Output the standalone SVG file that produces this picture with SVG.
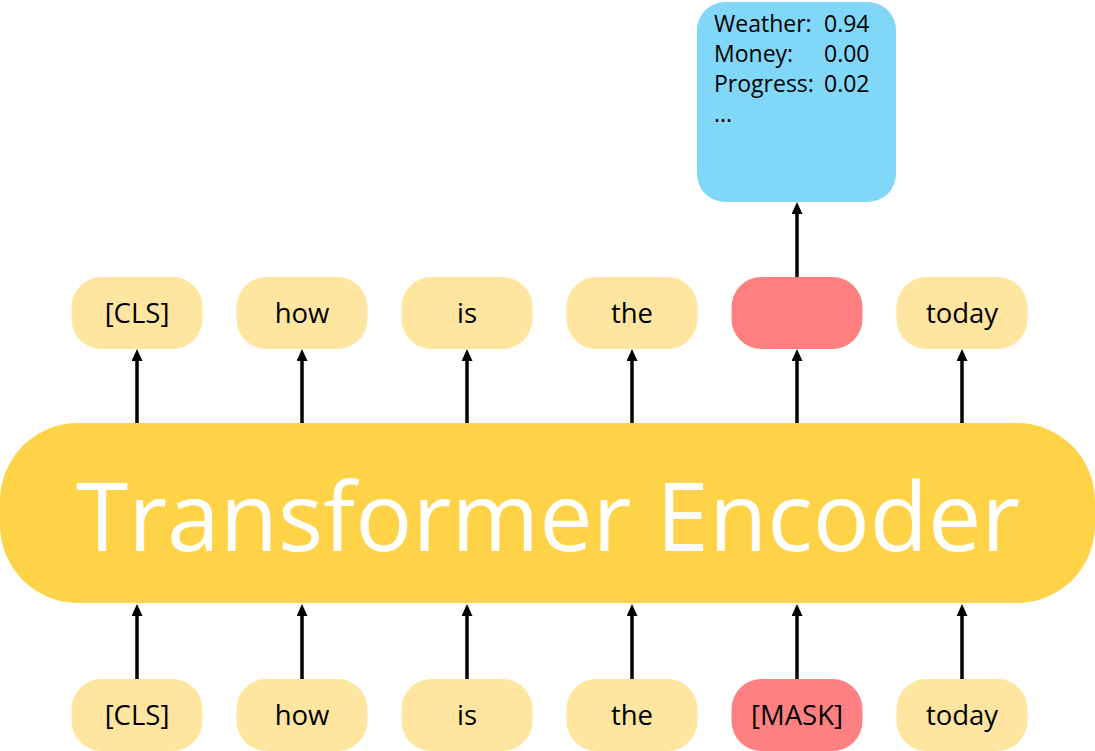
<svg xmlns="http://www.w3.org/2000/svg" width="1095" height="751" viewBox="0 0 1095 751">
<style>
.tok{fill:#FFE6A0}
.mask{fill:#FF8080}
.lbl{font-family:"Open Sans","Noto Sans",sans-serif;font-size:27.5px;fill:#000;text-anchor:middle}
.prob{font-family:"Open Sans","Noto Sans",sans-serif;font-size:23px;fill:#000}
.arr{stroke:#000;stroke-width:3.5;fill:none;marker-end:url(#ah)}
</style>
<defs>
<marker id="ah" markerUnits="userSpaceOnUse" markerWidth="12" markerHeight="11" refX="3" refY="5.5" orient="auto">
<path d="M0,0 L12,5.5 L0,11 z" fill="#000"/>
</marker>
</defs>
<rect width="1095" height="751" fill="#fff"/>
<g id="connectors">
<line class="arr" x1="137" y1="679" x2="137" y2="613"/>
<line class="arr" x1="302" y1="679" x2="302" y2="613"/>
<line class="arr" x1="467" y1="679" x2="467" y2="613"/>
<line class="arr" x1="632" y1="679" x2="632" y2="613"/>
<line class="arr" x1="797" y1="679" x2="797" y2="613"/>
<line class="arr" x1="962" y1="679" x2="962" y2="613"/>
<line class="arr" x1="137" y1="423" x2="137" y2="358"/>
<line class="arr" x1="302" y1="423" x2="302" y2="358"/>
<line class="arr" x1="467" y1="423" x2="467" y2="358"/>
<line class="arr" x1="632" y1="423" x2="632" y2="358"/>
<line class="arr" x1="797" y1="423" x2="797" y2="358"/>
<line class="arr" x1="962" y1="423" x2="962" y2="358"/>
<line class="arr" x1="797" y1="277" x2="797" y2="211"/>
</g>
<g id="encoder">
<rect x="0" y="423" width="1095" height="180" rx="78" fill="#FFD347"/>
<text x="548" y="551" font-family="Open Sans, Noto Sans, sans-serif" font-size="95" fill="#fff" text-anchor="middle">Transformer Encoder</text>
</g>
<g id="in-cls"><rect class="tok" x="71.5" y="679" width="131" height="72" rx="30"/><text class="lbl" x="137" y="725">[CLS]</text></g>
<g id="in-how"><rect class="tok" x="236.5" y="679" width="131" height="72" rx="30"/><text class="lbl" x="302" y="725">how</text></g>
<g id="in-is"><rect class="tok" x="401.5" y="679" width="131" height="72" rx="30"/><text class="lbl" x="467" y="725">is</text></g>
<g id="in-the"><rect class="tok" x="566.5" y="679" width="131" height="72" rx="30"/><text class="lbl" x="632" y="725">the</text></g>
<g id="in-mask"><rect class="mask" x="731.5" y="679" width="131" height="72" rx="30"/><text class="lbl" x="797" y="725">[MASK]</text></g>
<g id="in-today"><rect class="tok" x="896.5" y="679" width="131" height="72" rx="30"/><text class="lbl" x="962" y="725">today</text></g>
<g id="out-cls"><rect class="tok" x="71.5" y="277" width="131" height="72" rx="30"/><text class="lbl" x="137" y="323">[CLS]</text></g>
<g id="out-how"><rect class="tok" x="236.5" y="277" width="131" height="72" rx="30"/><text class="lbl" x="302" y="323">how</text></g>
<g id="out-is"><rect class="tok" x="401.5" y="277" width="131" height="72" rx="30"/><text class="lbl" x="467" y="323">is</text></g>
<g id="out-the"><rect class="tok" x="566.5" y="277" width="131" height="72" rx="30"/><text class="lbl" x="632" y="323">the</text></g>
<g id="out-mask"><rect class="mask" x="731.5" y="277" width="131" height="72" rx="30"/></g>
<g id="out-today"><rect class="tok" x="896.5" y="277" width="131" height="72" rx="30"/><text class="lbl" x="962" y="323">today</text></g>
<g id="probs">
<rect x="697" y="2" width="199" height="200" rx="28" fill="#80D7F8"/>
<text class="prob" x="714" y="32">Weather:</text><text class="prob" x="824" y="32">0.94</text>
<text class="prob" x="714" y="62">Money:</text><text class="prob" x="824" y="62">0.00</text>
<text class="prob" x="714" y="92">Progress:</text><text class="prob" x="824" y="92">0.02</text>
<text class="prob" x="714" y="122">...</text>
</g>
</svg>
